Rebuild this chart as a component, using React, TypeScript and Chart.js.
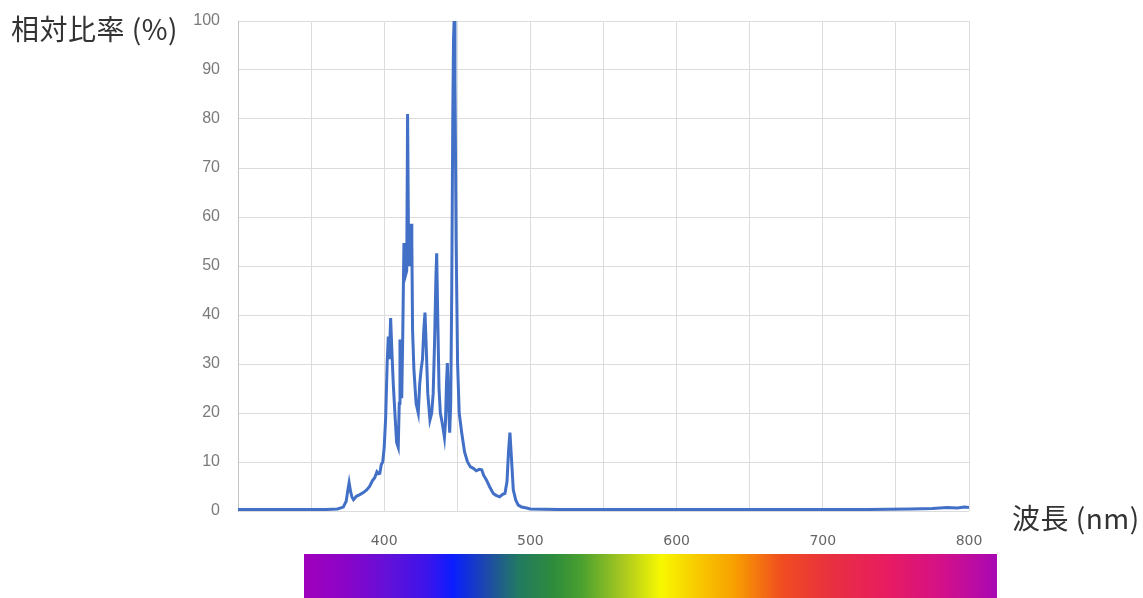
import React, { useEffect, useRef } from "react";
import { Chart, registerables } from "chart.js";

Chart.register(...registerables);

// Wavelength (nm) of each sampled point
const wavelengths: number[] = [
  300, 320, 340, 360, 368, 372, 374, 375, 376, 377, 378, 379, 381, 383, 386, 388,
  390, 392, 393.5, 395, 396, 397, 398, 399, 400, 401, 402, 402.8, 403.5, 404.4,
  405.2, 406.2, 407.5, 408.5, 409.6, 410.3, 410.8, 411.4, 412, 412.7, 413.5,
  414.5, 415.4, 416, 416.7, 417.5, 418.5, 418.9, 419.4, 420.3, 421.8, 423.3,
  424.3, 425.3, 426.2, 427.1, 427.9, 428.8, 429.8, 431.3, 432.5, 433.5, 434.5,
  435.4, 435.9, 436.6, 437.5, 438.4, 439.3, 440.2, 441.2, 441.9, 442.6, 443.2,
  444, 444.8, 445.5, 446.2, 446.9, 447.4, 447.8, 448.4, 449.2, 450.2, 451.3,
  453, 455, 457, 459, 461, 463, 465, 466.7, 468, 470, 472, 474.6, 476.5, 479,
  481, 482.6, 484, 485, 486, 487, 488.3, 490, 491.7, 494, 497.4, 500, 520, 550,
  580, 610, 640, 670, 700, 730, 760, 775, 785, 792, 797, 800,
];

// Relative intensity (%) at each wavelength
const intensities: number[] = [
  0.3, 0.3, 0.3, 0.3, 0.4, 0.8, 2, 4, 5.8, 4, 2.8, 2.3, 3, 3.3, 3.8, 4.3,
  5, 6.2, 6.8, 8, 7.6, 7.7, 9.5, 10, 13, 19, 30, 35.6, 31, 39.4,
  33, 26, 19, 14, 13, 22, 35, 30, 23, 36, 54.7,
  48, 49, 81, 52, 50, 58.6, 55, 37, 29, 22, 20,
  26, 29, 31, 37, 40.5, 33, 24, 18.6, 20, 24, 35,
  48, 52.6, 40, 25, 20, 18.6, 17, 15, 18, 26, 30.2,
  22, 16, 22, 45, 80, 96, 100, 88, 55, 30, 20,
  16, 12, 10, 9, 8.7, 8.2, 8.5, 8.4, 7.3, 6.3, 5, 3.6, 3.2, 2.9,
  3.4, 3.6, 6, 12, 16, 11, 4.3, 2.2, 1.2, 0.8, 0.6, 0.4, 0.3, 0.3,
  0.3, 0.3, 0.3, 0.3, 0.3, 0.3, 0.4, 0.5, 0.7, 0.6, 0.8, 0.7, 1.0,
];

const yTicks: number[] = [0, 10, 20, 30, 40, 50, 60, 70, 80, 90, 100];
const xTickLabels: number[] = [400, 500, 600, 700, 800];

const yTitle = "相対比率 (%)";
const xTitle = "波長 (nm)";

const spectrumStops: [number, string][] = [
  [0, "#a000bc"],
  [0.06, "#8a04c8"],
  [0.12, "#6410d8"],
  [0.18, "#3a14ec"],
  [0.215, "#0a1eff"],
  [0.26, "#1c46b0"],
  [0.31, "#227a60"],
  [0.36, "#2e8c3c"],
  [0.4, "#4aa030"],
  [0.46, "#a8c820"],
  [0.515, "#f8f800"],
  [0.57, "#f8c800"],
  [0.62, "#f8a000"],
  [0.69, "#f04c20"],
  [0.76, "#e83040"],
  [0.84, "#e81c60"],
  [0.92, "#d41088"],
  [1, "#a808b4"],
];

export default function App() {
  const canvasRef = useRef<HTMLCanvasElement | null>(null);

  useEffect(() => {
    if (!canvasRef.current) return;
    const points = wavelengths.map((w, i) => ({ x: w, y: intensities[i] }));
    const chart = new Chart(canvasRef.current, {
      type: "line",
      data: {
        datasets: [
          {
            data: points,
            borderColor: "#4270c6",
            borderWidth: 3,
            pointRadius: 0,
            tension: 0,
            fill: false,
          },
        ],
      },
      options: {
        animation: false,
        responsive: false,
        layout: { padding: { left: 0, right: 174, top: 21, bottom: 0 } },
        plugins: { legend: { display: false }, tooltip: { enabled: false } },
        scales: {
          x: {
            type: "linear",
            min: 300,
            max: 800,
            afterFit: (s: any) => {
              s.height = 87;
              s.paddingLeft = 0;
              s.paddingRight = 0;
            },
            afterBuildTicks: (s: any) => {
              const t = [];
              for (let v = 300; v <= 800; v += 50) t.push({ value: v });
              s.ticks = t;
            },
            ticks: {
              autoSkip: false,
              maxRotation: 0,
              padding: 22,
              color: "#666",
              font: { family: "DejaVu Sans", size: 14 },
              callback: (v: any) => (xTickLabels.includes(Number(v)) ? String(v) : ""),
            },
            grid: { color: "#dcdcdc", drawTicks: false, lineWidth: 1 },
            border: { display: false },
          },
          y: {
            min: 0,
            max: 100,
            afterFit: (s: any) => {
              s.width = 238;
              s.paddingTop = 0;
              s.paddingBottom = 0;
            },
            afterBuildTicks: (s: any) => {
              s.ticks = yTicks.map((v) => ({ value: v }));
            },
            ticks: {
              padding: 18,
              color: "#7a7a7a",
              font: { family: "Liberation Sans", size: 16 },
            },
            grid: { color: "#dcdcdc", drawTicks: false, lineWidth: 1 },
            border: { display: true, color: "#c4c4c4" },
          },
        },
      },
    });
    return () => chart.destroy();
  }, []);

  const gradient = `linear-gradient(to right, ${spectrumStops
    .map(([p, c]) => `${c} ${(p * 100).toFixed(1)}%`)
    .join(", ")})`;

  const titleStyle: React.CSSProperties = {
    position: "absolute",
    fontFamily: "'Noto Sans CJK JP', 'Noto Sans', sans-serif",
    fontSize: 28,
    letterSpacing: "0.5px",
    lineHeight: "36px",
    color: "#333",
    whiteSpace: "nowrap",
  };

  return (
    <div
      style={{
        position: "absolute",
        left: 0,
        top: 0,
        width: 1143,
        height: 598,
        background: "#ffffff",
        overflow: "hidden",
      }}
    >
      <canvas ref={canvasRef} width={1143} height={598} style={{ position: "absolute", left: 0, top: 0 }} />
      <div style={{ ...titleStyle, left: 11, top: 10 }}>{yTitle}</div>
      <div style={{ ...titleStyle, left: 1012, top: 499 }}>{xTitle}</div>
      <div
        style={{
          position: "absolute",
          left: 304,
          top: 554,
          width: 693,
          height: 44,
          background: gradient,
        }}
      />
    </div>
  );
}
